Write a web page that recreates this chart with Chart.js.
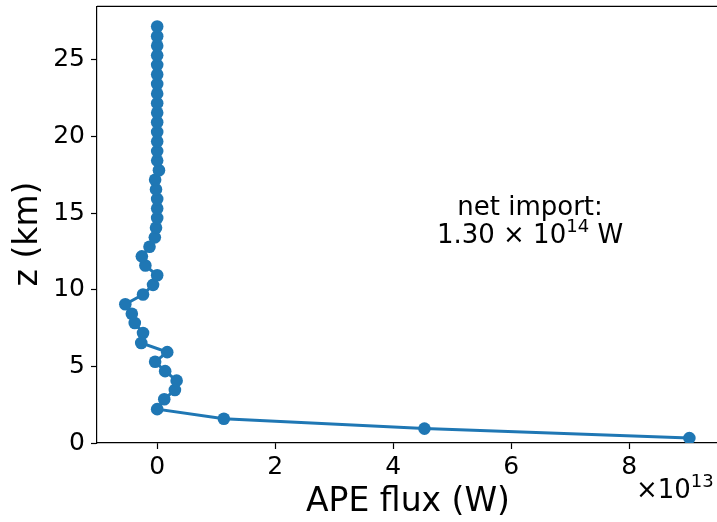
<!DOCTYPE html>
<html>
<head>
<meta charset="utf-8">
<script src="https://cdn.jsdelivr.net/npm/chart.js@4/dist/chart.umd.min.js"></script>
<style>
  html, body { margin: 0; padding: 0; background: #fff; overflow: hidden; }
  #wrap { width: 717px; height: 522px; overflow: hidden; }
</style>
</head>
<body>
<div id="wrap"><canvas id="apeChart" width="724" height="522"></canvas></div>
<script>
// APE flux profile, flux in units of 1e13 W, height in km
let zKm = [0.32, 0.94, 1.58, 2.21, 2.86, 3.46, 4.07, 4.69, 5.30, 5.93, 6.53,
  7.18, 7.83, 8.44, 9.06, 9.69, 10.32, 10.95, 11.58, 12.18, 12.81, 13.42,
  14.05, 14.68, 15.30, 15.92, 16.55, 17.18, 17.80, 18.43, 19.05, 19.68,
  20.30, 20.93, 21.55, 22.18, 22.80, 23.43, 24.05, 24.68, 25.30, 25.93,
  26.55, 27.18];
let fluxE13 = [9.02, 4.53, 1.13, 0.00, 0.12, 0.30, 0.33, 0.135, -0.035, 0.17, -0.27,
  -0.24, -0.38, -0.43, -0.54, -0.24, -0.07, 0.00, -0.20, -0.26, -0.13, -0.04,
  -0.02, 0.00, 0.00, 0.00, -0.02, -0.035, 0.03, 0.00, 0.00, 0.00,
  0.00, 0.00, 0.00, 0.00, 0.00, 0.00, 0.00, 0.00, 0.00, 0.00,
  0.00, 0.00];
let xTicks = [0, 2, 4, 6, 8];
let yTicks = [0, 5, 10, 15, 20, 25];

let font = "'DejaVu Sans', sans-serif";
let blue = '#1f77b4';
let tickSize = 25;

let points = [];
for (let i = 0; i < zKm.length; i++) {
  points.push({ x: fluxE13[i], y: zKm[i] });
}

// top spine, axis labels, offset text and the note
let decor = {
  id: 'decor',
  afterDraw(chart) {
    let ctx = chart.ctx;
    let a = chart.chartArea;
    ctx.save();
    ctx.strokeStyle = '#000';
    ctx.lineWidth = 1.2;
    ctx.beginPath();
    ctx.moveTo(a.left, a.top);
    ctx.lineTo(a.right, a.top);
    ctx.stroke();

    ctx.fillStyle = '#000';
    ctx.textAlign = 'center';
    ctx.textBaseline = 'alphabetic';
    ctx.font = '33px ' + font;
    ctx.fillText('APE flux (W)', 408, 511);

    ctx.save();
    ctx.translate(37, 234);
    ctx.rotate(-Math.PI / 2);
    ctx.fillText('z (km)', 0, 0);
    ctx.restore();

    // offset text x10^13
    ctx.textAlign = 'left';
    ctx.font = '26px ' + font;
    ctx.fillText('\u00d710', 636, 498);
    let wx = ctx.measureText('\u00d710').width;
    ctx.font = '18px ' + font;
    ctx.fillText('13', 636 + wx, 487);

    // annotation
    let cx = 530;
    ctx.textAlign = 'center';
    ctx.font = '26px ' + font;
    ctx.fillText('net import:', cx, 215);
    let w1 = ctx.measureText('1.30 \u00d7 10').width;
    ctx.font = '18px ' + font;
    let w2 = ctx.measureText('14').width;
    ctx.font = '26px ' + font;
    let w3 = ctx.measureText(' W').width;
    let x0 = cx - (w1 + w2 + w3) / 2;
    ctx.textAlign = 'left';
    ctx.fillText('1.30 \u00d7 10', x0, 243);
    ctx.font = '18px ' + font;
    ctx.fillText('14', x0 + w1, 232);
    ctx.font = '26px ' + font;
    ctx.fillText(' W', x0 + w1 + w2, 243);
    ctx.restore();
  }
};

new Chart('apeChart', {
  type: 'scatter',
  data: {
    datasets: [{
      data: points,
      showLine: true,
      borderColor: blue,
      backgroundColor: blue,
      borderWidth: 3,
      pointRadius: 6.3,
      pointHoverRadius: 6.3,
      pointBorderWidth: 0
    }]
  },
  options: {
    responsive: false,
    animation: false,
    events: [],
    layout: { padding: { top: 3, right: 2, left: 0, bottom: 0 } },
    plugins: { legend: { display: false }, tooltip: { enabled: false } },
    scales: {
      x: {
        type: 'linear',
        min: -1.02,
        max: 9.5,
        afterBuildTicks: (s) => { s.ticks = xTicks.map(v => ({ value: v })); },
        afterFit: (s) => { s.height = 79; s.paddingLeft = 0; s.paddingRight = 0; },
        grid: { drawOnChartArea: false, tickLength: 6, color: '#000', tickWidth: 1.2 },
        border: { color: '#000', width: 1.2 },
        ticks: { color: '#000', font: { family: font, size: tickSize }, padding: 3, maxRotation: 0 }
      },
      y: {
        type: 'linear',
        min: 0,
        max: 28.5,
        afterBuildTicks: (s) => { s.ticks = yTicks.map(v => ({ value: v })); },
        afterFit: (s) => { s.width = 97; s.paddingTop = 0; s.paddingBottom = 0; },
        grid: { drawOnChartArea: false, tickLength: 6, color: '#000', tickWidth: 1.2 },
        border: { color: '#000', width: 1.2 },
        ticks: { color: '#000', font: { family: font, size: tickSize }, padding: 6 }
      }
    }
  },
  plugins: [decor]
});
</script>
</body>
</html>
